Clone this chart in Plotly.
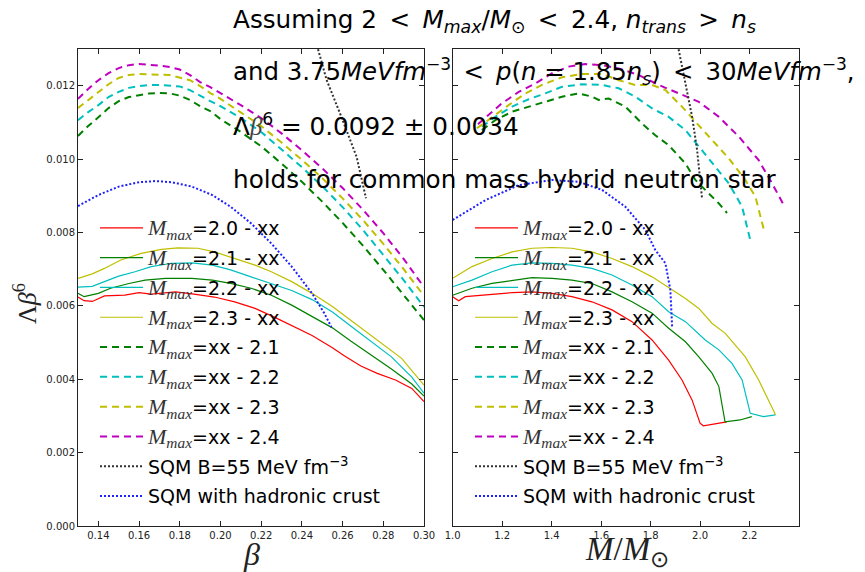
import plotly.graph_objects as go

# ---------------- data: left panel (x = beta) ----------------
beta_red = [0.130,0.133,0.137,0.143,0.153,0.160,0.166,0.178,0.187,0.197,0.207,0.217,0.227,0.237,0.245,0.255,0.261,0.269,0.277,0.286,0.294,0.300]
lam_red = [0.00624,0.00614,0.00612,0.00627,0.00629,0.00636,0.00632,0.00638,0.00632,0.00624,0.00611,0.00593,0.00568,0.00541,0.00519,0.00486,0.00463,0.00436,0.00416,0.00398,0.00375,0.00339]

beta_grn = [0.130,0.133,0.140,0.146,0.155,0.163,0.173,0.186,0.196,0.205,0.215,0.225,0.235,0.245,0.255,0.264,0.274,0.284,0.294,0.300]
lam_grn = [0.00634,0.00625,0.00634,0.00648,0.00661,0.00670,0.00675,0.00675,0.00670,0.00661,0.00648,0.00629,0.00602,0.00572,0.00540,0.00504,0.00466,0.00428,0.00387,0.00354]

beta_cyn = [0.130,0.137,0.143,0.150,0.158,0.166,0.176,0.186,0.196,0.205,0.215,0.225,0.235,0.245,0.255,0.264,0.274,0.284,0.294,0.300]
lam_cyn = [0.00651,0.00653,0.00666,0.00681,0.00693,0.00707,0.00716,0.00717,0.00711,0.00698,0.00679,0.00661,0.00642,0.00617,0.00583,0.00545,0.00504,0.00461,0.00406,0.00362]

beta_yel = [0.130,0.137,0.143,0.151,0.161,0.171,0.179,0.189,0.197,0.207,0.217,0.225,0.235,0.245,0.255,0.264,0.274,0.289,0.300]
lam_yel = [0.00675,0.00687,0.00702,0.00725,0.00743,0.00754,0.00758,0.00757,0.00747,0.00729,0.00711,0.00693,0.00666,0.00634,0.00598,0.00561,0.00520,0.00457,0.00384]

beta_dash = [0.130,0.135,0.140,0.145,0.150,0.155,0.160,0.165,0.170,0.175,0.180,0.185,0.190,0.195,0.200,0.210,0.220,0.230,0.240,0.250,0.260,0.270,0.280,0.290,0.300]
lam_grn_d = [0.01063,0.01090,0.01114,0.01139,0.01158,0.01169,0.01174,0.01179,0.01180,0.01179,0.01173,0.01161,0.01144,0.01131,0.01109,0.01074,0.01035,0.00988,0.00938,0.00884,0.00826,0.00764,0.00698,0.00630,0.00561]
lam_cyn_d = [0.01106,0.01128,0.01147,0.01169,0.01183,0.01194,0.01199,0.01202,0.01202,0.01200,0.01198,0.01188,0.01172,0.01158,0.01144,0.01112,0.01074,0.01027,0.00978,0.00926,0.00869,0.00807,0.00740,0.00670,0.00597]
lam_yel_d = [0.01139,0.01161,0.01183,0.01204,0.01221,0.01229,0.01232,0.01232,0.01230,0.01229,0.01223,0.01215,0.01199,0.01180,0.01164,0.01128,0.01090,0.01045,0.00998,0.00948,0.00893,0.00834,0.00769,0.00700,0.00627]
lam_mag_d = [0.01164,0.01191,0.01215,0.01234,0.01248,0.01256,0.01259,0.01258,0.01255,0.01251,0.01244,0.01229,0.01210,0.01196,0.01180,0.01147,0.01112,0.01070,0.01024,0.00975,0.00921,0.00862,0.00798,0.00728,0.00651]

beta_sqm = [0.2474,0.2522,0.2587,0.2669,0.2715]
lam_sqm = [0.01310,0.01215,0.01125,0.01006,0.00893]

beta_crust = [0.130,0.140,0.150,0.160,0.168,0.176,0.186,0.196,0.205,0.215,0.225,0.235,0.245,0.251,0.2545]
lam_crust = [0.00872,0.00902,0.00925,0.00937,0.00940,0.00937,0.00925,0.00902,0.00870,0.00825,0.00770,0.00707,0.00634,0.00580,0.00542]

# ---------------- data: right panel (x = M/Msun) ----------------
m_red = [1.0,1.024,1.051,1.105,1.159,1.240,1.321,1.402,1.482,1.563,1.644,1.725,1.806,1.873,1.927,1.968,2.000,2.013,2.108]
lamR_red = [0.00625,0.00614,0.00625,0.00628,0.00632,0.00636,0.00638,0.00634,0.00625,0.00611,0.00589,0.00557,0.00507,0.00452,0.00398,0.00343,0.00280,0.00273,0.00284]

m_grn = [1.0,1.078,1.159,1.240,1.321,1.402,1.482,1.563,1.644,1.725,1.806,1.873,1.941,1.995,2.049,2.076,2.101,2.162,2.209]
lamR_grn = [0.00629,0.00648,0.00661,0.00670,0.00677,0.00675,0.00670,0.00661,0.00638,0.00611,0.00580,0.00539,0.00502,0.00461,0.00416,0.00380,0.00284,0.00289,0.00298]

m_cyn = [1.0,1.078,1.159,1.240,1.321,1.402,1.482,1.563,1.644,1.725,1.806,1.873,1.941,2.021,2.076,2.129,2.170,2.203,2.256,2.305]
lamR_cyn = [0.00652,0.00670,0.00693,0.00711,0.00717,0.00716,0.00711,0.00702,0.00684,0.00657,0.00625,0.00584,0.00557,0.00507,0.00480,0.00443,0.00398,0.00307,0.00298,0.00303]

m_yel = [1.0,1.078,1.159,1.240,1.321,1.402,1.482,1.563,1.644,1.725,1.806,1.887,1.941,1.995,2.049,2.102,2.183,2.237,2.305]
lamR_yel = [0.00675,0.00707,0.00729,0.00747,0.00757,0.00759,0.00757,0.00747,0.00729,0.00707,0.00679,0.00643,0.00620,0.00593,0.00552,0.00525,0.00461,0.00398,0.00303]

m_grn_d = [1.118,1.172,1.240,1.307,1.374,1.442,1.510,1.563,1.590,1.631,1.698,1.765,1.819,1.873,1.941,1.981,2.021,2.076,2.109]
lamR_grn_d = [0.01079,0.01106,0.01129,0.01143,0.01156,0.01170,0.01179,0.01170,0.01161,0.01165,0.01143,0.01097,0.01065,0.01038,0.00988,0.00943,0.00916,0.00879,0.00853]

m_cyn_d = [1.118,1.172,1.240,1.307,1.374,1.442,1.523,1.604,1.671,1.738,1.806,1.873,1.941,1.995,2.049,2.116,2.170,2.203]
lamR_cyn_d = [0.01088,0.01115,0.01143,0.01163,0.01179,0.01197,0.01204,0.01202,0.01193,0.01170,0.01138,0.01115,0.01079,0.01034,0.00988,0.00934,0.00870,0.00779]

m_yel_d = [1.098,1.159,1.226,1.294,1.361,1.442,1.523,1.604,1.671,1.738,1.806,1.860,1.927,1.981,2.048,2.116,2.183,2.224,2.258]
lamR_yel_d = [0.01084,0.01115,0.01147,0.01179,0.01202,0.01223,0.01232,0.01232,0.01215,0.01202,0.01202,0.01188,0.01143,0.01102,0.01052,0.01002,0.00943,0.00897,0.00807]

m_mag_d = [1.102,1.159,1.199,1.267,1.334,1.402,1.469,1.536,1.604,1.671,1.752,1.833,1.914,1.995,2.076,2.157,2.237,2.291,2.338]
lamR_mag_d = [0.01095,0.01129,0.01152,0.01183,0.01206,0.01234,0.01252,0.01259,0.01256,0.01247,0.01229,0.01202,0.01179,0.01156,0.01115,0.01061,0.00997,0.00934,0.00875]

m_sqm = [1.910,1.941,1.968,1.988,2.001,2.008]
lamR_sqm = [0.01310,0.01206,0.01115,0.01025,0.00934,0.00893]

m_crust = [1.0,1.132,1.267,1.402,1.510,1.604,1.698,1.779,1.819,1.860,1.880,1.887]
lamR_crust = [0.00834,0.00888,0.00929,0.00943,0.00938,0.00916,0.00870,0.00807,0.00752,0.00716,0.00643,0.00543]

# tick labels
yticks = [0.000, 0.002, 0.004, 0.006, 0.008, 0.010, 0.012]
xticks_left = [0.14, 0.16, 0.18, 0.20, 0.22, 0.24, 0.26, 0.28, 0.30]
xticks_right = [1.0, 1.2, 1.4, 1.6, 1.8, 2.0, 2.2]

MM = "<span style='font-family:Liberation Serif;font-size:22px;fill:#333'><i>M</i><sub><i>max</i></sub></span>"
labels = [MM + "=2.0 - xx", MM + "=2.1 - xx", MM + "=2.2 - xx", MM + "=2.3 - xx",
          MM + "=xx - 2.1", MM + "=xx - 2.2", MM + "=xx - 2.3", MM + "=xx - 2.4",
          "SQM B=55 MeV fm<sup>−3</sup>", "SQM with hadronic crust"]

RED, GRN, CYN, YEL, MAG, BLK, BLU = "#ff0000", "#008000", "#00bfbf", "#bfbf00", "#bf00bf", "#333333", "#2020ff"
colors = [RED, GRN, CYN, YEL, GRN, CYN, YEL, MAG, BLK, BLU]
DASH = "7px,5px"
DOT = "2px,2px"
styles = [("solid", 1.2)] * 4 + [(DASH, 2)] * 4 + [(DOT, 2)] * 2

left_data = [(beta_red, lam_red), (beta_grn, lam_grn), (beta_cyn, lam_cyn), (beta_yel, lam_yel),
             (beta_dash, lam_grn_d), (beta_dash, lam_cyn_d), (beta_dash, lam_yel_d), (beta_dash, lam_mag_d),
             (beta_sqm, lam_sqm), (beta_crust, lam_crust)]
right_data = [(m_red, lamR_red), (m_grn, lamR_grn), (m_cyn, lamR_cyn), (m_yel, lamR_yel),
              (m_grn_d, lamR_grn_d), (m_cyn_d, lamR_cyn_d), (m_yel_d, lamR_yel_d), (m_mag_d, lamR_mag_d),
              (m_sqm, lamR_sqm), (m_crust, lamR_crust)]

fig = go.Figure()
for i, (xs, ys) in enumerate(left_data):
    fig.add_trace(go.Scatter(x=xs, y=ys, mode="lines", name=labels[i], xaxis="x", yaxis="y",
                             line=dict(color=colors[i], width=styles[i][1], dash=styles[i][0]),
                             legend="legend", legendgroup="L%d" % i))
for i, (xs, ys) in enumerate(right_data):
    fig.add_trace(go.Scatter(x=xs, y=ys, mode="lines", name=labels[i], xaxis="x2", yaxis="y2",
                             line=dict(color=colors[i], width=styles[i][1], dash=styles[i][0]),
                             legend="legend2", legendgroup="R%d" % i))

# the page body has an 8px margin: the figure is sized to fill the rest of the window
OFF = 8
W, H = 865 - OFF, 572 - OFF
def fx(p): return (p - OFF) / W
def fy(p): return 1 - (p - OFF) / H

axis_common = dict(showline=True, linecolor="#222", linewidth=1, mirror="ticks", ticks="inside",
                   ticklen=5, tickcolor="#222", showgrid=False, zeroline=False, automargin=False,
                   tickfont=dict(family="DejaVu Sans", size=10, color="#222"))

legend_common = dict(xanchor="left", yanchor="top", bgcolor="rgba(0,0,0,0)", borderwidth=0,
                     font=dict(family="DejaVu Sans", size=19, color="black"),
                     itemwidth=43, tracegroupgap=2.1, traceorder="grouped")

fig.update_layout(
    template="none",
    width=W, height=H, margin=dict(l=0, r=0, t=0, b=0, pad=0, autoexpand=False),
    paper_bgcolor="white", plot_bgcolor="white", showlegend=True,
    xaxis=dict(domain=[fx(78), fx(424)], range=[0.13, 0.30], tickvals=xticks_left,
               tickformat=".2f", anchor="y", **axis_common),
    yaxis=dict(domain=[fy(526), fy(49)], range=[0, 0.013], tickvals=yticks,
               tickformat=".3f", anchor="x", **axis_common),
    xaxis2=dict(domain=[fx(452.7), fx(799)], range=[1.0, 2.4], tickvals=xticks_right,
                tickformat=".1f", anchor="y2", **axis_common),
    yaxis2=dict(domain=[fy(526), fy(49)], range=[0, 0.013], tickvals=yticks,
                showticklabels=False, anchor="x2", **axis_common),
    legend=dict(x=fx(95), y=fy(209), **legend_common),
    legend2=dict(x=fx(470), y=fy(209), **legend_common),
)

serif = "font-family:Liberation Serif"
SP = "\u2002"
ann = [
    ("Assuming 2" + SP + "&lt;" + SP + "<i>M<sub>max</sub></i>/<i>M</i><sub>⊙</sub>" + SP + "&lt;" + SP
     + "2.4, <i>n<sub>trans</sub></i>" + SP + "&gt;" + SP + "<i>n<sub>s</sub></i>", 21.5, 24.7),
    ("and 3.75<i>MeVfm</i><sup>−3</sup>" + SP + "&lt;" + SP + "<i>p</i>(<i>n</i> = 1.85<i>n<sub>s</sub></i>)"
     + SP + "&lt;" + SP + "30<i>MeVfm</i><sup>−3</sup>,", 72, 24.4),
    ("Λ<span style='" + serif + ";fill:#444'><i>β</i></span><sup>6</sup> = 0.0092 ± 0.0034", 125, 24.7),
    ("holds for common mass hybrid neutron star", 179, 24.7),
]
annotations = []
for t, yp, fs in ann:
    annotations.append(dict(text=t, x=fx(231), y=fy(yp), xref="paper", yref="paper",
                            xanchor="left", yanchor="middle", showarrow=False,
                            font=dict(family="DejaVu Sans", size=fs, color="black")))
annotations.append(dict(text="<i>β</i>", x=fx(252), y=fy(554), xref="paper", yref="paper",
                        xanchor="center", yanchor="middle",
                        showarrow=False, font=dict(family="Liberation Serif", size=32, color="#222")))
annotations.append(dict(text="<i>M</i>/<i>M</i><sub>⊙</sub>", x=fx(627), y=fy(551), xref="paper", yref="paper",
                        xanchor="center", yanchor="middle",
                        showarrow=False, font=dict(family="Liberation Serif", size=33, color="#222")))
annotations.append(dict(text="Λ<i>β</i><sup>6</sup>", x=fx(25), y=fy(304), xref="paper", yref="paper",
                        xanchor="center", yanchor="middle",
                        textangle=-90, showarrow=False, font=dict(family="Liberation Serif", size=26, color="#222")))
fig.update_layout(annotations=annotations)

fig.write_html("out.html")
